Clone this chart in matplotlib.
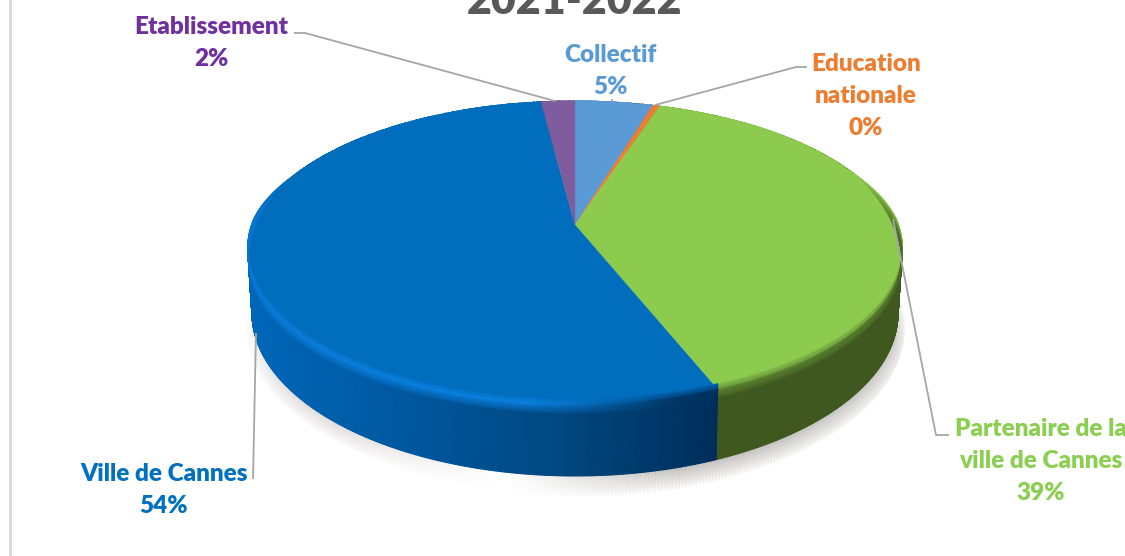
import numpy as np
import matplotlib
matplotlib.use("Agg")
from matplotlib import pyplot as plt
from matplotlib.colors import to_rgb

# chart data
names = ["Collectif", "Education\nnationale", "Partenaire de la\nville de Cannes", "Ville de Cannes", "Etablissement"]
shares = [4.6, 0.4, 39, 54, 2]
title = "2021-2022"

# styles
top_colors = ["#5B9BD5", "#ED7D31", "#8DCB4F", "#006EBD", "#7E5C9E"]
text_colors = ["#5B9BD5", "#ED7D31", "#8BCF50", "#0070C0", "#7030A0"]
label_xy = [(610, 71), (866, 96), (1041, 461), (164, 490), (211, 43)]
leaders = [
    [(612, 99), (612, 102)],
    [(807, 67), (796, 67), (655, 105)],
    [(949, 435), (936, 435), (893, 219)],
    [(253, 479), (256, 333)],
    [(294, 33), (305, 33), (555, 101)],
]

# projection of the unit disc onto the picture (pixels)
cx, cy = 575, 225
A, B, k = 321.4, 146.8, 0.184
D = 58


def project(theta, r=1.0, d=0.0):
    u = r * np.cos(np.radians(theta))
    v = r * np.sin(np.radians(theta))
    w = 1 + k * v
    return cx + A * u / w * (1 - 0.012 * d / D), cy - B * v / w + d / w


def mix(a, b, t):
    t = np.asarray(t)[..., None]
    return np.asarray(a) * (1 - t) + np.asarray(b) * t


def side_color(i, x):
    if i == 3:
        xp = [248, 400, 560, 717]
        cols = np.array([(0, 103, 185), (0, 88, 160), (0, 72, 128), (0, 46, 90)]) / 255
        return np.stack([np.interp(x, xp, cols[:, c]) for c in range(3)], axis=-1)
    if i == 2:
        return np.broadcast_to(np.array((62, 88, 32)) / 255, x.shape + (3,))
    return mix(to_rgb(top_colors[i]), (0, 0, 0), np.full(x.shape, 0.5))


fig = plt.figure(figsize=(11.25, 5.56), dpi=100)
ax = fig.add_axes([0, 0, 1, 1])

wedges, _ = ax.pie(shares, startangle=90, counterclock=False)
ax.set_aspect("auto")
ax.set_xlim(0, 1125)
ax.set_ylim(556, 0)
ax.axis("off")
for w in wedges:
    w.set_visible(False)

# soft shadow under the disc
th = np.linspace(-100, 5, 200)
x0, y0 = project(th, 1.0, D)
x1, y1 = project(th, 1.022, D + 13)
fade = np.clip(np.minimum(th + 100, 5 - th) / 25, 0, 1)
C = np.ones((2, th.size, 3))
C[0] = mix((1, 1, 1), (0.74, 0.73, 0.72), fade)
ax.pcolormesh(np.vstack([x0, x1]), np.vstack([y0, y1]), C, shading="gouraud", zorder=1)
th = np.linspace(185, 260, 150)
x0, y0 = project(th, 1.0, D)
x1, y1 = project(th, 1.018, D + 11)
fade = np.clip(np.minimum(th - 185, 260 - th) / 30, 0, 1)
C = np.ones((2, th.size, 3))
C[0] = mix((1, 1, 1), (0.86, 0.85, 0.84), fade)
ax.pcolormesh(np.vstack([x0, x1]), np.vstack([y0, y1]), C, shading="gouraud", zorder=1)

# rim, then top surface, then the bevel along the edge
for i, w in enumerate(wedges):
    th = np.linspace(w.theta1, w.theta2, max(int(w.theta2 - w.theta1) * 3, 4))
    x0, y0 = project(th)
    x1, y1 = project(th, 1.0, D)
    C = np.stack([side_color(i, x0), side_color(i, x1)])
    ax.pcolormesh(np.vstack([x0, x1]), np.vstack([y0, y1]), C, shading="gouraud", zorder=2)

    px, py = project(th)
    ax.fill(np.r_[cx, px], np.r_[cy, py], color=top_colors[i], lw=0.3, zorder=3)

    # band between top face and rim, only on the front half of the disc
    front = np.clip(0.35 - np.sin(np.radians(th)), 0, 0.35) / 0.35
    x_in, y_in = project(th, 1.0, -5 * front)
    x_edge, y_edge = project(th)
    x_out, y_out = project(th, 1.0, 7 * front)
    top = np.array(to_rgb(top_colors[i]))
    if i == 3:
        glow = np.clip((680 - x_edge) / 150, 0.05, 1)
        edge = mix(side_color(i, x_edge), (0.05, 0.52, 0.90), glow)
    elif i == 2:
        edge = np.broadcast_to(np.array((96, 138, 52)) / 255, x_edge.shape + (3,))
    else:
        edge = np.broadcast_to(top, x_edge.shape + (3,))
    edge = mix(top, edge, front)
    side = mix(np.broadcast_to(top, x_edge.shape + (3,)), side_color(i, x_out), front)
    X = np.vstack([x_in, x_edge, x_out])
    Y = np.vstack([y_in, y_edge, y_out])
    C = np.stack([np.broadcast_to(top, edge.shape), edge, side])
    ax.pcolormesh(X, Y, C, shading="gouraud", zorder=4)

# left border of the source slide
ax.axvline(10, color="#DADADA", lw=2.2, zorder=0)

# leader lines and labels
for pts in leaders:
    xs, ys = zip(*pts)
    ax.plot(xs, ys, color="#A6A6A6", lw=1.3, zorder=5, solid_capstyle="butt")
for name, s, xy, col in zip(names, shares, label_xy, text_colors):
    ax.text(xy[0], xy[1], f"{name}\n{round(s)}%", color=col, family="Lato", weight="heavy",
            fontsize=17.5, ha="center", va="center", linespacing=1.58, multialignment="center", zorder=6)

ax.text(574, 1, title, color="#595959", family="Lato", weight="heavy", fontsize=31,
        ha="center", va="center", zorder=6)

fig.savefig("out.png", dpi=100, facecolor="white")
